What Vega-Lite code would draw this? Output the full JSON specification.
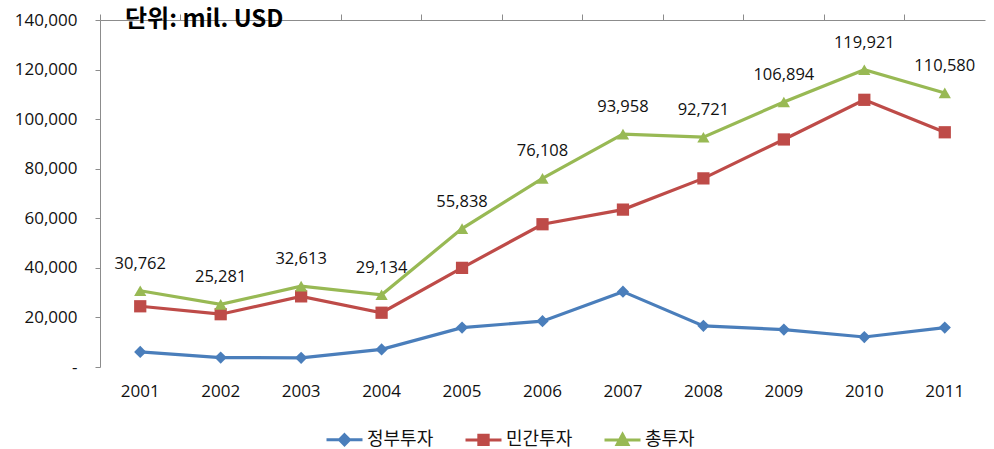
{
  "$schema": "https://vega.github.io/schema/vega-lite/v6.json",
  "width": 885,
  "height": 347,
  "autosize": "none",
  "padding": {"left": 100, "top": 20, "right": 9, "bottom": 82},
  "background": "white",
  "config": {"font": "Noto Sans CJK KR", "view": {"stroke": null}},
  "title": {"text": "단위: mil. USD", "anchor": "start", "frame": "group", "fontSize": 24, "fontWeight": "bold", "color": "#000000", "dx": 25, "baseline": "middle", "offset": -2, "dy": 31},
  "data": {"values": [
    {"year": "2001", "series": "정부투자", "value": 6070},
    {"year": "2002", "series": "정부투자", "value": 3800},
    {"year": "2003", "series": "정부투자", "value": 3700},
    {"year": "2004", "series": "정부투자", "value": 7100},
    {"year": "2005", "series": "정부투자", "value": 15900},
    {"year": "2006", "series": "정부투자", "value": 18500},
    {"year": "2007", "series": "정부투자", "value": 30400},
    {"year": "2008", "series": "정부투자", "value": 16600},
    {"year": "2009", "series": "정부투자", "value": 15100},
    {"year": "2010", "series": "정부투자", "value": 12100},
    {"year": "2011", "series": "정부투자", "value": 15900},
    {"year": "2001", "series": "민간투자", "value": 24500},
    {"year": "2002", "series": "민간투자", "value": 21300},
    {"year": "2003", "series": "민간투자", "value": 28500},
    {"year": "2004", "series": "민간투자", "value": 21900},
    {"year": "2005", "series": "민간투자", "value": 40000},
    {"year": "2006", "series": "민간투자", "value": 57600},
    {"year": "2007", "series": "민간투자", "value": 63500},
    {"year": "2008", "series": "민간투자", "value": 76100},
    {"year": "2009", "series": "민간투자", "value": 91800},
    {"year": "2010", "series": "민간투자", "value": 107800},
    {"year": "2011", "series": "민간투자", "value": 94700},
    {"year": "2001", "series": "총투자", "value": 30762},
    {"year": "2002", "series": "총투자", "value": 25281},
    {"year": "2003", "series": "총투자", "value": 32613},
    {"year": "2004", "series": "총투자", "value": 29134},
    {"year": "2005", "series": "총투자", "value": 55838},
    {"year": "2006", "series": "총투자", "value": 76108},
    {"year": "2007", "series": "총투자", "value": 93958},
    {"year": "2008", "series": "총투자", "value": 92721},
    {"year": "2009", "series": "총투자", "value": 106894},
    {"year": "2010", "series": "총투자", "value": 119921},
    {"year": "2011", "series": "총투자", "value": 110580}
  ]},
  "resolve": {"scale": {"x": "shared", "y": "shared"}, "axis": {"x": "independent"}},
  "layer": [
    {
      "mark": {"type": "line", "strokeWidth": 3.2},
      "encoding": {
        "x": {"field": "year", "type": "ordinal", "scale": {"type": "band", "paddingInner": 0, "paddingOuter": 0},
          "axis": {"title": null, "labelAngle": 0, "ticks": false, "domain": false, "labelFont": "Open Sans", "labelFontSize": 17, "labelColor": "#111111", "labelPadding": 16}},
        "y": {"field": "value", "type": "quantitative", "scale": {"domain": [0, 140000], "nice": false},
          "axis": {"title": null, "grid": false, "values": [0, 20000, 40000, 60000, 80000, 100000, 120000, 140000],
            "labelExpr": "datum.value === 0 ? '-' : format(datum.value, ',')", "labelFont": "Open Sans", "labelFontSize": 17, "labelColor": "#111111",
            "domainColor": "#8c8c8c", "tickColor": "#8c8c8c", "tickSize": 5, "labelPadding": 18}},
        "color": {"field": "series", "type": "nominal",
          "scale": {"domain": ["정부투자", "민간투자", "총투자"], "range": ["#4A7EBB", "#BE4B48", "#98B954"]},
          "legend": {"title": null, "orient": "none", "legendX": 225, "legendY": 400, "direction": "horizontal",
            "labelFontSize": 18, "labelColor": "#111111", "symbolSize": 1296, "symbolStrokeWidth": 3, "columnPadding": 25, "labelOffset": 3,
            "encode": {"symbols": {"update": {
              "shape": {"signal": "datum.value === '정부투자' ? 'M-1,0H1M0,-0.28L0.28,0L0,0.28L-0.28,0Z' : datum.value === '민간투자' ? 'M-1,0H1M-0.26,-0.26H0.26V0.26H-0.26Z' : 'M-1,0H1M0,-0.32L0.3,0.24H-0.3Z'"},
              "fill": {"scale": "color", "field": "value"},
              "stroke": {"scale": "color", "field": "value"}
            }}}}}
      }
    },
    {
      "transform": [{"filter": "datum.series === '정부투자'"}],
      "mark": {"type": "point", "filled": true, "opacity": 1, "shape": "diamond", "size": 150},
      "encoding": {
        "x": {"field": "year", "type": "ordinal",
          "axis": {"title": null, "labels": false, "ticks": true, "bandPosition": 0, "domain": true, "domainColor": "#8c8c8c", "tickColor": "#8c8c8c", "tickSize": 6}},
        "y": {"field": "value", "type": "quantitative"},
        "color": {"field": "series", "type": "nominal", "legend": null}
      }
    },
    {
      "transform": [{"filter": "datum.series === '민간투자'"}],
      "mark": {"type": "point", "filled": true, "opacity": 1, "shape": "square", "size": 150},
      "encoding": {
        "x": {"field": "year", "type": "ordinal", "axis": null},
        "y": {"field": "value", "type": "quantitative"},
        "color": {"field": "series", "type": "nominal", "legend": null}
      }
    },
    {
      "transform": [{"filter": "datum.series === '총투자'"}],
      "mark": {"type": "point", "filled": true, "opacity": 1, "shape": "triangle-up", "size": 150},
      "encoding": {
        "x": {"field": "year", "type": "ordinal", "axis": null},
        "y": {"field": "value", "type": "quantitative"},
        "color": {"field": "series", "type": "nominal", "legend": null}
      }
    },
    {
      "transform": [{"filter": "datum.series === '총투자'"}],
      "mark": {"type": "text", "font": "Open Sans", "fontSize": 16.5, "color": "#111111", "baseline": "middle", "dy": -27},
      "encoding": {
        "x": {"field": "year", "type": "ordinal", "axis": null},
        "y": {"field": "value", "type": "quantitative"},
        "text": {"field": "value", "type": "quantitative", "format": ","}
      }
    }
  ]
}
